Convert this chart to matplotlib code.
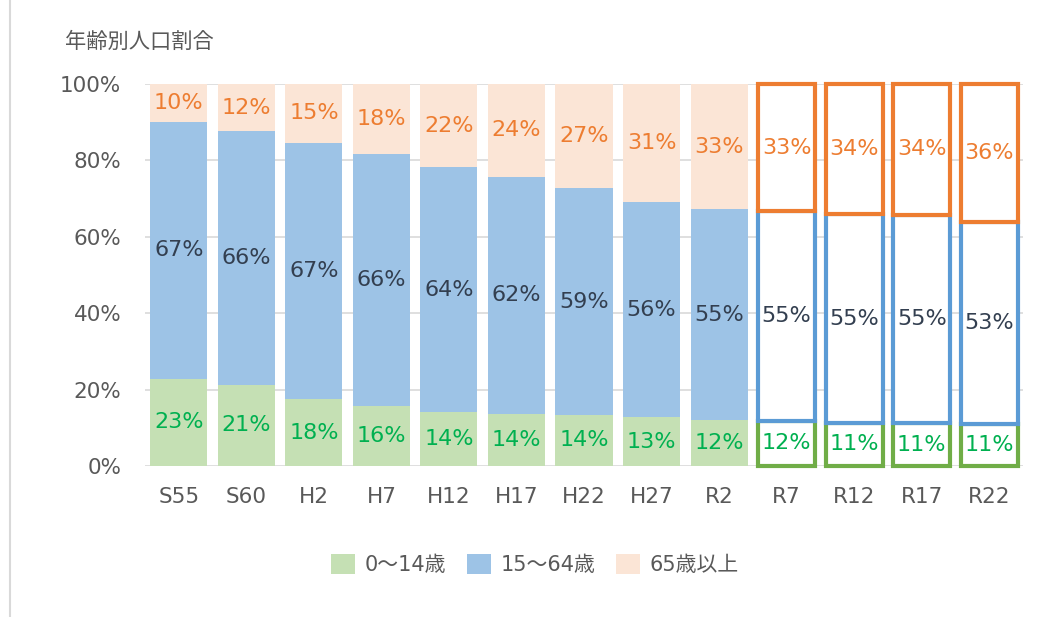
import matplotlib
matplotlib.use("Agg")
import matplotlib.pyplot as plt
from matplotlib.patches import Patch
from matplotlib.lines import Line2D

plt.rcParams['font.family'] = ['DejaVu Sans', 'Noto Sans CJK JP']

categories = ["S55", "S60", "H2", "H7", "H12", "H17", "H22", "H27", "R2",
              "R7", "R12", "R17", "R22"]
young = [22.9, 21.3, 17.5, 15.6, 14.2, 13.7, 13.4, 12.8, 12.0, 11.8, 11.3, 11.2, 11.0]
working = [67.1, 66.4, 67.1, 66.0, 64.0, 62.0, 59.3, 56.2, 55.2, 54.9, 54.6, 54.6, 52.8]
elderly = [10.0, 12.3, 15.4, 18.4, 21.8, 24.3, 27.3, 31.0, 32.8, 33.3, 34.1, 34.2, 36.2]
young_labels = [23, 21, 18, 16, 14, 14, 14, 13, 12, 12, 11, 11, 11]
working_labels = [67, 66, 67, 66, 64, 62, 59, 56, 55, 55, 55, 55, 53]
elderly_labels = [10, 12, 15, 18, 22, 24, 27, 31, 33, 33, 34, 34, 36]
n_actual = 9  # first 9 are actual, rest are projections
series_names = ["0～14歳", "15～64歳", "65歳以上"]
yticks = [0, 20, 40, 60, 80, 100]

fill_cols = ["#C5E0B4", "#9DC3E6", "#FBE5D6"]
edge_cols = ["#70AD47", "#5B9BD5", "#ED7D31"]
label_cols = ["#00B050", "#333F50", "#ED7D31"]

fig = plt.figure(figsize=(10.39, 6.17), dpi=100)
ax = fig.add_axes([0.1396, 0.2447, 0.8450, 0.6191])

x = list(range(len(categories)))
w = 0.845
series = [young, working, elderly]
labels = [young_labels, working_labels, elderly_labels]

bottoms = [0.0] * len(categories)
for s, (vals, labs) in enumerate(zip(series, labels)):
    for i in x:
        if i < n_actual:
            ax.bar(i, vals[i], w, bottom=bottoms[i], color=fill_cols[s],
                   linewidth=0, zorder=2 + s)
        else:
            ax.bar(i, vals[i], w, bottom=bottoms[i], facecolor="white",
                   edgecolor=edge_cols[s], linewidth=3, zorder=2 + s,
                   clip_on=False)
        ax.text(i, bottoms[i] + vals[i] / 2, f"{labs[i]}%", ha="center",
                va="center", fontsize=16, color=label_cols[s], zorder=10)
    bottoms = [b + v for b, v in zip(bottoms, vals)]

ax.set_xlim(-0.5, len(categories) - 0.5)
ax.set_ylim(0, 100)
ax.set_yticks(yticks)
ax.set_yticklabels([f"{t}%" for t in yticks])
ax.set_xticks(x)
ax.set_xticklabels(categories)
ax.tick_params(axis="both", length=0, labelsize=15.5, labelcolor="#595959")
ax.tick_params(axis="y", pad=17)
ax.tick_params(axis="x", pad=15)
for sp in ax.spines.values():
    sp.set_visible(False)
ax.grid(axis="y", color="#D9D9D9", linewidth=1.2, zorder=0)
ax.set_axisbelow(True)

fig.text(0.0625, 0.932, "年齢別人口割合", fontsize=15.3, color="#595959",
         ha="left", va="center")

handles = [Patch(facecolor=c, edgecolor="none") for c in fill_cols]
leg = fig.legend(handles, series_names, loc="center", bbox_to_anchor=(0.515, 0.085),
                 ncol=3, frameon=False, fontsize=15, handlelength=1.15,
                 handleheight=1.1, handletextpad=0.45, columnspacing=1.0)
for t in leg.get_texts():
    t.set_color("#595959")

fig.add_artist(Line2D([0.0096, 0.0096], [0, 1], transform=fig.transFigure,
                      color="#D9D9D9", linewidth=1.5))

fig.savefig("out.png", dpi=100)
